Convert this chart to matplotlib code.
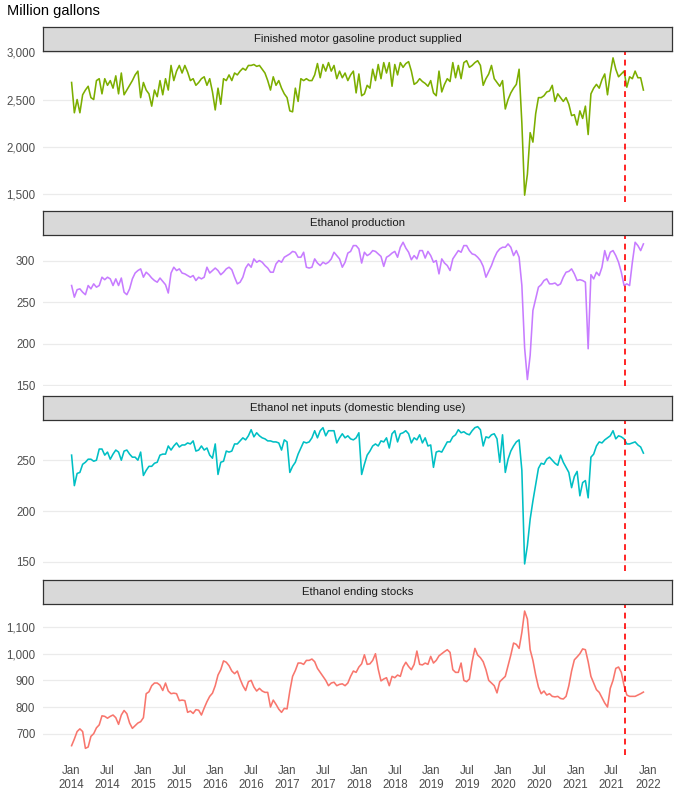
import matplotlib
matplotlib.use("Agg")
import matplotlib.pyplot as plt
import matplotlib.dates as mdates
from matplotlib.ticker import MultipleLocator, FuncFormatter
import pandas as pd

plt.rcParams["font.family"] = ["Liberation Sans", "DejaVu Sans"]

# weekly EIA data, every second week
start_date = "2014-01-03"
cutoff_date = "2021-09-10"

panel_titles = [
    "Finished motor gasoline product supplied",
    "Ethanol production",
    "Ethanol net inputs (domestic blending use)",
    "Ethanol ending stocks",
]

gasoline = [
    2680, 2360, 2500, 2360, 2550, 2600, 2640, 2520, 2500, 2700, 2720, 2560, 2720,
    2650, 2700, 2620, 2750, 2560, 2780, 2550, 2600, 2650, 2700, 2760, 2800, 2520,
    2680, 2600, 2560, 2430, 2600, 2530, 2700, 2550, 2720, 2600, 2860, 2700, 2800,
    2860, 2780, 2860, 2790, 2700, 2720, 2650, 2680, 2720, 2740, 2650, 2720, 2580,
    2390, 2620, 2450, 2720, 2700, 2760, 2700, 2780, 2760, 2800, 2830, 2810, 2860,
    2860, 2870, 2850, 2860, 2820, 2780, 2700, 2600, 2740, 2650, 2700, 2620, 2560,
    2520, 2380, 2370, 2620, 2480, 2720, 2700, 2720, 2700, 2700, 2760, 2880, 2730,
    2870, 2800, 2890, 2800, 2860, 2720, 2800, 2730, 2780, 2700, 2760, 2800, 2570,
    2770, 2540, 2560, 2650, 2620, 2820, 2700, 2870, 2720, 2890, 2780, 2890, 2640,
    2870, 2760, 2890, 2840, 2880, 2900, 2800, 2660, 2680, 2720, 2690, 2670, 2640,
    2700, 2570, 2540, 2800, 2580, 2660, 2720, 2690, 2890, 2730, 2860, 2720, 2890,
    2910, 2840, 2860, 2890, 2910, 2860, 2650, 2720, 2770, 2860, 2720, 2680, 2640,
    2700, 2400, 2500, 2570, 2620, 2660, 2820, 2250, 1490, 1710, 2150, 2050, 2350,
    2520, 2520, 2540, 2580, 2590, 2650, 2480, 2560, 2520, 2480, 2520, 2450, 2330,
    2340, 2230, 2380, 2300, 2430, 2130, 2560, 2620, 2660, 2620, 2710, 2770, 2550,
    2770, 2940, 2820, 2740, 2770, 2800, 2630, 2740, 2720, 2800, 2730, 2730, 2600,
]

ethanol_production = [
    270, 256, 265, 266, 262, 259, 270, 266, 272, 268, 270, 280, 277,
    280, 278, 270, 278, 270, 279, 262, 259, 266, 278, 285, 288, 290,
    280, 286, 283, 279, 276, 274, 279, 275, 271, 261, 285, 292, 288,
    290, 285, 284, 282, 280, 282, 276, 280, 278, 280, 292, 285, 288,
    291, 288, 283, 286, 290, 292, 289, 280, 272, 274, 280, 291, 296,
    292, 302, 298, 300, 298, 294, 291, 286, 286, 296, 300, 298, 304,
    306, 308, 311, 310, 304, 304, 310, 292, 291, 292, 302, 297, 294,
    298, 296, 298, 302, 310, 306, 302, 292, 298, 309, 311, 318, 318,
    314, 297, 310, 306, 308, 312, 311, 308, 305, 293, 304, 306, 309,
    311, 304, 316, 322, 315, 310, 301, 306, 302, 312, 312, 303, 311,
    306, 298, 300, 284, 302, 297, 294, 288, 302, 307, 312, 310, 318,
    318, 312, 308, 307, 304, 300, 293, 280, 287, 294, 303, 310, 314,
    316, 316, 320, 316, 306, 312, 304, 270, 195, 157, 186, 240, 254,
    268, 271, 276, 278, 272, 272, 273, 270, 272, 280, 286, 287, 290,
    284, 276, 277, 276, 274, 194, 283, 278, 286, 282, 292, 312, 300,
    310, 312, 306, 298, 286, 270, 272, 270, 298, 322, 318, 312, 320,
]

ethanol_net_inputs = [
    255, 225, 237, 238, 246, 248, 251, 251, 249, 250, 261, 261, 255,
    258, 251, 256, 260, 258, 250, 259, 260, 256, 253, 253, 250, 258,
    235, 240, 244, 244, 247, 248, 255, 256, 256, 264, 260, 264, 267,
    263, 265, 265, 267, 266, 269, 259, 260, 264, 260, 262, 255, 252,
    266, 236, 248, 249, 259, 258, 259, 266, 266, 269, 272, 270, 274,
    280, 273, 277, 274, 272, 271, 269, 269, 268, 268, 267, 260, 270,
    268, 238, 244, 248, 256, 262, 268, 267, 268, 272, 279, 272, 279,
    282, 274, 279, 279, 279, 267, 272, 276, 272, 274, 271, 270, 272,
    277, 236, 246, 255, 259, 264, 266, 264, 269, 268, 272, 262, 276,
    279, 268, 276, 277, 279, 276, 267, 272, 270, 275, 267, 272, 264,
    265, 243, 258, 259, 258, 263, 268, 268, 273, 275, 280, 277, 278,
    276, 275, 279, 282, 283, 280, 264, 273, 272, 275, 276, 271, 248,
    275, 238, 251, 259, 264, 268, 270, 240, 148, 166, 192, 210, 226,
    242, 247, 246, 251, 253, 250, 247, 245, 255, 248, 243, 238, 223,
    234, 239, 215, 228, 230, 213, 253, 256, 264, 268, 267, 270, 272,
    274, 279, 271, 274, 273, 271, 266, 266, 267, 268, 265, 263, 257,
]

ethanol_stocks = [
    655, 680, 708, 718, 708, 645, 650, 690, 700, 722, 733, 767, 765,
    758, 765, 770, 760, 735, 770, 787, 775, 740, 720, 730, 740, 745,
    760, 850, 857, 880, 890, 890, 882, 862, 890, 860, 850, 852, 850,
    824, 826, 824, 780, 785, 776, 790, 788, 770, 796, 820, 840, 852,
    880, 920, 940, 973, 968, 955, 935, 925, 935, 905, 880, 862, 895,
    900, 875, 860, 870, 860, 855, 855, 800, 826, 810, 792, 780, 795,
    793, 860, 915, 937, 965, 965, 960, 975, 975, 980, 970, 945, 930,
    915, 900, 880, 890, 893, 880, 885, 887, 880, 890, 915, 935, 930,
    950, 962, 996, 960, 962, 975, 1000, 942, 898, 905, 910, 880, 915,
    910, 920, 915, 950, 968, 952, 940, 960, 1010, 960, 958, 965, 960,
    990, 965, 975, 992, 1000, 1008, 1015, 1005, 940, 930, 930, 965, 900,
    895, 905, 970, 1020, 995, 985, 970, 940, 900, 890, 880, 853, 895,
    905, 915, 955, 995, 1040, 1035, 1020, 1080, 1160, 1130, 1015, 975, 920,
    875, 850, 860, 845, 850, 840, 838, 840, 832, 830, 840, 880, 935,
    977, 988, 1000, 1018, 1015, 970, 915, 890, 865, 855, 835, 815, 800,
    870, 900, 945, 950, 930, 880, 845, 840, 840, 840, 845, 850, 856,
]

series = [gasoline, ethanol_production, ethanol_net_inputs, ethanol_stocks]
colors = ["#7CAE00", "#C77CFF", "#00BFC4", "#F8766D"]
y_steps = [500, 50, 50, 100]

dates = pd.date_range(start_date, periods=len(gasoline), freq="14D")
x0, x1 = mdates.date2num(dates[0]), mdates.date2num(dates[-1])
xpad = 0.05 * (x1 - x0)

W, H = 680, 805
fig = plt.figure(figsize=(W / 100, H / 100), dpi=100)
fig.text(7 / W, 1 - 4 / H, "Million gallons", ha="left", va="top",
         fontsize=10.5, color="black")

left, width = 43, 629
strip_h, panel_h, step = 24, 151, 184.4
first_top = 51

for k, (title, vals, col, ystep) in enumerate(zip(panel_titles, series, colors, y_steps)):
    top = first_top + step * k
    ax = fig.add_axes([left / W, 1 - (top + panel_h) / H, width / W, panel_h / H])
    strip = fig.add_axes([left / W, 1 - top / H, width / W, strip_h / H])

    strip.set_facecolor("#D9D9D9")
    strip.set_xticks([])
    strip.set_yticks([])
    for s in strip.spines.values():
        s.set_color("#333333")
        s.set_linewidth(0.9)
    strip.text(0.5, 0.5, title, ha="center", va="center", fontsize=8.2,
               color="#1A1A1A", transform=strip.transAxes)

    ax.plot(dates, vals, color=col, lw=1.15, zorder=3)
    ax.axvline(pd.Timestamp(cutoff_date), color="red", lw=1.2,
               ls=(0, (3.5, 2.8)), zorder=4)

    lo, hi = min(vals), max(vals)
    ypad = 0.05 * (hi - lo)
    ax.set_ylim(lo - ypad, hi + ypad)
    ax.set_xlim(x0 - xpad, x1 + xpad)

    ax.yaxis.set_major_locator(MultipleLocator(ystep))
    ax.yaxis.set_major_formatter(FuncFormatter(lambda v, p: f"{v:,.0f}"))
    ax.xaxis.set_major_locator(mdates.MonthLocator(bymonth=[1, 7]))
    ax.xaxis.set_major_formatter(mdates.DateFormatter("%b\n%Y"))

    ax.grid(axis="y", color="#EBEBEB", lw=0.9, zorder=0)
    ax.set_facecolor("white")
    for s in ax.spines.values():
        s.set_visible(False)
    ax.tick_params(length=0, labelsize=8.3, colors="#4D4D4D")
    ax.tick_params(axis="y", pad=5.5)
    ax.tick_params(axis="x", pad=7)
    if k < 3:
        ax.tick_params(labelbottom=False)
    else:
        for lab in ax.get_xticklabels():
            lab.set_ha("center")
            lab.set_multialignment("center")

fig.savefig("out.png", dpi=100)
